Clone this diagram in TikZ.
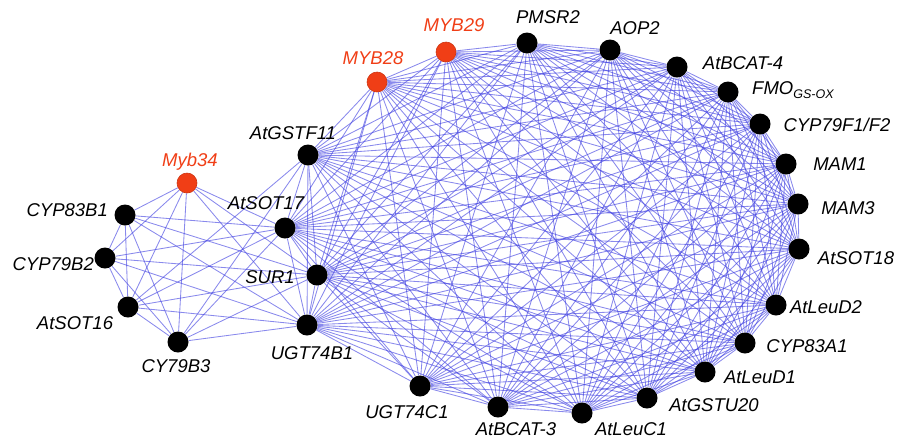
\documentclass[tikz,border=0pt]{standalone}
\usepackage{fontspec}
\setmainfont{Liberation Sans}
\usetikzlibrary{backgrounds}
\definecolor{redc}{RGB}{240,62,22}
\definecolor{edgec}{RGB}{65,65,225}
\begin{document}
\begin{tikzpicture}[x=1pt,y=-1pt,
  dot/.style={circle,fill=black,inner sep=0pt,minimum size=21pt},
  rdot/.style={circle,fill=redc,draw=redc!85!black,line width=0.6pt,inner sep=0pt,minimum size=20pt},
  lab/.style={font=\fontsize{18.5}{22}\selectfont\itshape,inner sep=0pt,text=black},
  rlab/.style={lab,text=redc},
  edge/.style={draw=edgec,line width=0.85pt,opacity=0.62}]
\useasboundingbox (0,0) rectangle (899,440);
% main ring
\node[rdot] (m1) at (377,82) {};
\node[rdot] (m2) at (446,52) {};
\node[dot] (m3) at (527,43) {};
\node[dot] (m4) at (610,50) {};
\node[dot] (m5) at (677,67) {};
\node[dot] (m6) at (728,92) {};
\node[dot] (m7) at (760,124) {};
\node[dot] (m8) at (786,164) {};
\node[dot] (m9) at (798,204) {};
\node[dot] (m10) at (799,249) {};
\node[dot] (m11) at (776,305) {};
\node[dot] (m12) at (745,343) {};
\node[dot] (m13) at (705,372) {};
\node[dot] (m14) at (647,398) {};
\node[dot] (m15) at (582,413) {};
\node[dot] (m16) at (498,407) {};
\node[dot] (m17) at (420,386) {};
\node[dot] (m18) at (307,325) {};
\node[dot] (m19) at (317,275) {};
\node[dot] (m20) at (285,228) {};
\node[dot] (m21) at (308,155) {};
% left cluster
\node[rdot] (l1) at (187,183) {};
\node[dot] (l2) at (125,215) {};
\node[dot] (l3) at (105,258) {};
\node[dot] (l4) at (128,307) {};
\node[dot] (l5) at (178,342) {};
% labels
\node[rlab] (t1) at (373,58) {MYB28};
\node[rlab] (t2) at (454,25) {MYB29};
\node[lab] (t3) at (548,17) {PMSR2};
\node[lab] (t4) at (635,28) {AOP2};
\node[lab] (t5) at (743,63) {AtBCAT-4};
\node[lab,anchor=west] (t6) at (752,90) {FMO\raisebox{-0.4ex}{\fontsize{12.5}{13}\selectfont GS-OX}};
\node[lab] (t7) at (837,125) {CYP79F1/F2};
\node[lab] (t8) at (840,164) {MAM1};
\node[lab] (t9) at (848,208) {MAM3};
\node[lab] (t10) at (856,258) {AtSOT18};
\node[lab] (t11) at (826,307) {AtLeuD2};
\node[lab] (t12) at (807,346) {CYP83A1};
\node[lab] (t13) at (760,377) {AtLeuD1};
\node[lab] (t14) at (714,405) {AtGSTU20};
\node[lab] (t15) at (631,429) {AtLeuC1};
\node[lab] (t16) at (516,429) {AtBCAT-3};
\node[lab] (t17) at (407,412) {UGT74C1};
\node[lab] (t18) at (312,353) {UGT74B1};
\node[lab] (t19) at (270,277) {SUR1};
\node[lab] (t20) at (266,203) {AtSOT17};
\node[lab] (t21) at (293,133) {AtGSTF11};
\node[rlab] (u1) at (190,162) {Myb34};
\node[lab,anchor=east] (u2) at (108,210) {CYP83B1};
\node[lab,anchor=east] (u3) at (94,264) {CYP79B2};
\node[lab] (u4) at (75,323) {AtSOT16};
\node[lab] (u5) at (176,366) {CY79B3};
% edges
\begin{scope}[on background layer]
\foreach \i in {1,...,21}{
  \foreach \j in {1,...,21}{
    \ifnum\i<\j \draw[edge] (m\i) -- (m\j);\fi
  }
}
\foreach \i in {1,...,5}{
  \foreach \j in {1,...,5}{
    \ifnum\i<\j \draw[edge] (l\i) -- (l\j);\fi
  }
}
\foreach \i in {2,...,5}{
  \foreach \j in {18,19,20}{
    \draw[edge] (l\i) -- (m\j);
  }
}
\draw[edge] (l1) -- (m19);
\draw[edge] (l1) -- (m18);
\draw[edge] (l1) -- (m20);
\draw[edge] (m21) -- (l5);
\draw[edge] (m21) -- (l4);
\end{scope}
\end{tikzpicture}
\end{document}
